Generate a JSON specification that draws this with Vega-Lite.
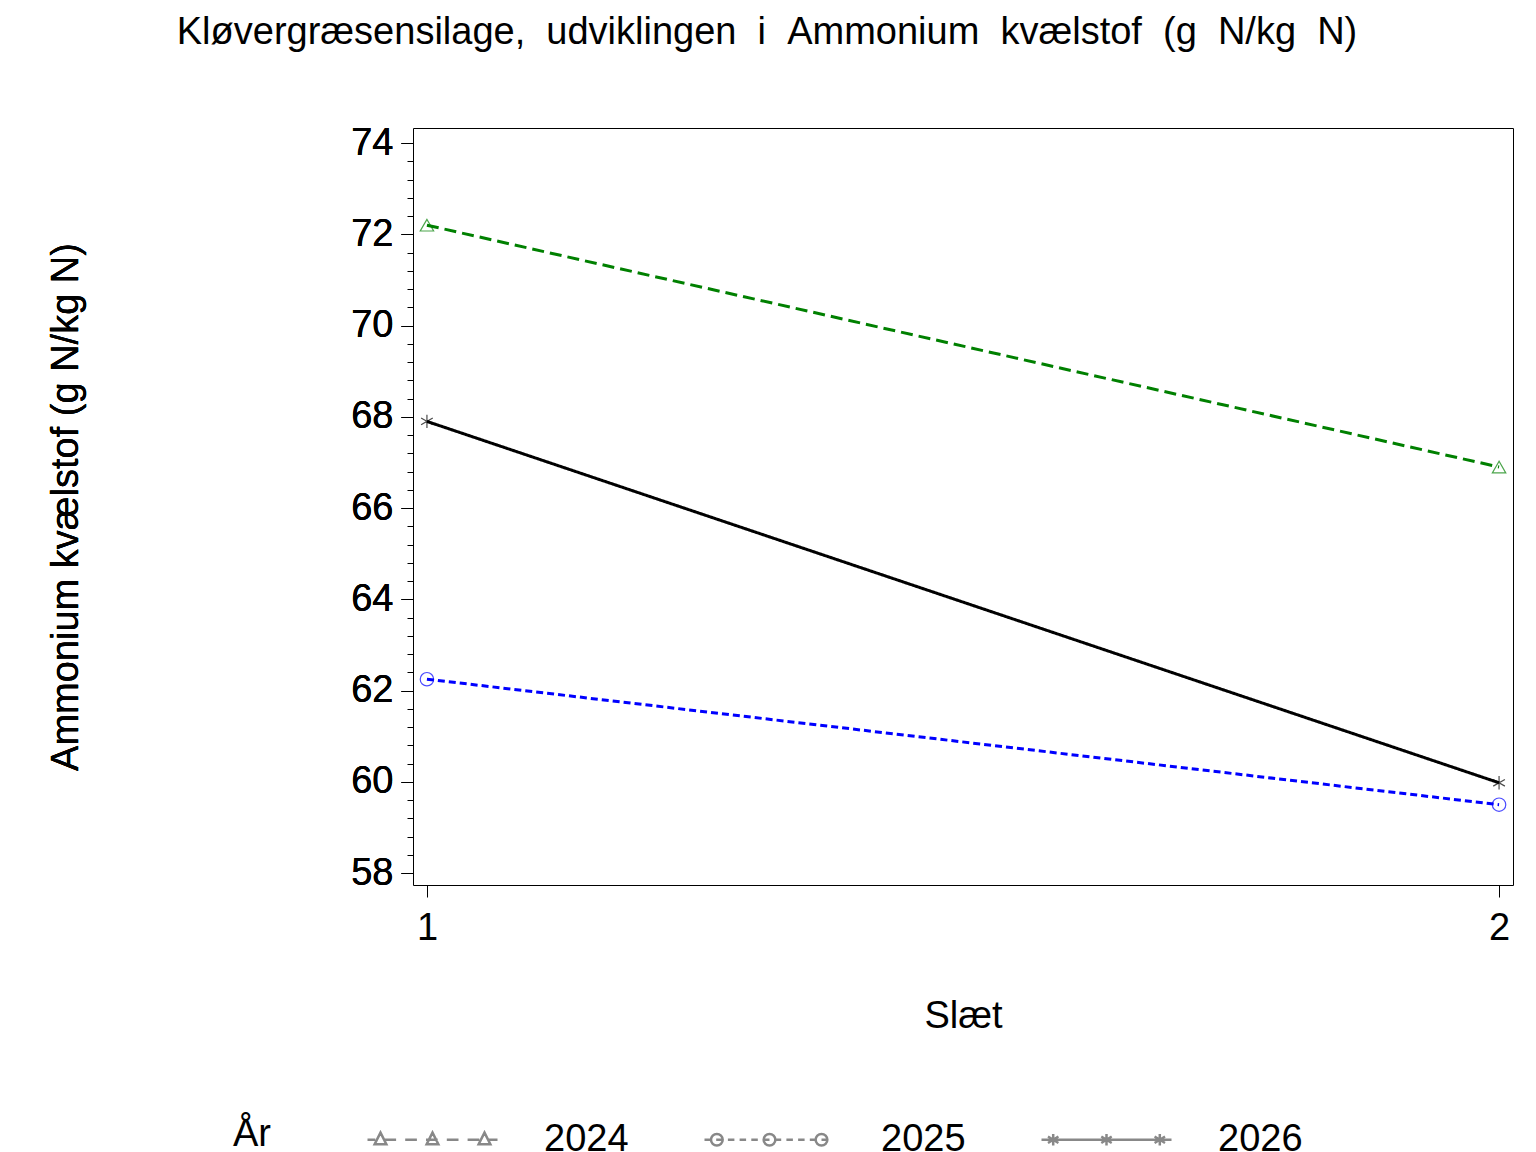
{
  "$schema": "https://vega.github.io/schema/vega-lite/v6.json",
  "autosize": "none",
  "width": 1100,
  "height": 757,
  "padding": {"left": 413, "top": 128, "right": 23, "bottom": 267},
  "background": "white",
  "config": {
    "font": "Liberation Sans",
    "view": {"stroke": "black", "strokeWidth": 1}
  },
  "title": {
    "text": "Kløvergræsensilage,\u00a0\u00a0udviklingen\u00a0\u00a0i\u00a0\u00a0Ammonium\u00a0\u00a0kvælstof\u00a0\u00a0(g\u00a0\u00a0N/kg\u00a0\u00a0N)",
    "fontSize": 38, "fontWeight": "normal", "font": "Liberation Sans",
    "anchor": "middle", "dx": -196, "offset": 72, "color": "black"
  },
  "data": {
    "values": [
      {"slaet": 1, "aar": "2024", "val": 72.2},
      {"slaet": 2, "aar": "2024", "val": 66.9},
      {"slaet": 1, "aar": "2025", "val": 62.25},
      {"slaet": 2, "aar": "2025", "val": 59.5},
      {"slaet": 1, "aar": "2026", "val": 67.9},
      {"slaet": 2, "aar": "2026", "val": 59.98}
    ]
  },
  "encoding": {
    "x": {
      "field": "slaet", "type": "quantitative",
      "scale": {"domain": [0.987, 2.013], "nice": false, "zero": false},
      "axis": {
        "values": [1, 2], "title": "Slæt", "grid": false, "domain": false,
        "tickSize": 12, "tickColor": "black", "labelFontSize": 38, "labelColor": "black",
        "labelPadding": 12, "titleFontSize": 38, "titleFontWeight": "normal",
        "titleColor": "black", "titlePadding": 50, "format": "d"
      }
    },
    "y": {
      "field": "val", "type": "quantitative",
      "scale": {"domain": [57.74, 74.33], "nice": false, "zero": false},
      "axis": {
        "orient": "left",
        "values": [58, 60, 62, 64, 66, 68, 70, 72, 74], "title": "Ammonium kvælstof (g N/kg N)",
        "grid": false, "domain": false, "tickSize": 12, "tickColor": "black",
        "labelFontSize": 38, "labelColor": "black", "labelPadding": 8,
        "titleFontSize": 38, "titleFontWeight": "normal", "titleColor": "black",
        "titlePadding": 265
      }
    }
  },
  "layer": [
    {
      "mark": {"type": "tick", "opacity": 0},
      "encoding": {
        "y": {
          "field": "val", "type": "quantitative",
          "axis": {
            "orient": "left", "title": null, "labels": false, "domain": false, "grid": false,
            "tickSize": 6, "tickColor": "black",
            "values": [58.4, 58.8, 59.2, 59.6, 60.4, 60.8, 61.2, 61.6, 62.4, 62.8, 63.2, 63.6, 64.4, 64.8, 65.2, 65.6, 66.4, 66.8, 67.2, 67.6, 68.4, 68.8, 69.2, 69.6, 70.4, 70.8, 71.2, 71.6, 72.4, 72.8, 73.2, 73.6]
          }
        }
      }
    },
    {
      "mark": {"type": "line", "strokeWidth": 3},
      "encoding": {
        "color": {
          "field": "aar", "type": "nominal",
          "scale": {"domain": ["2024", "2025", "2026"], "range": ["#008000", "#0000ff", "#000000"]},
          "legend": null
        },
        "strokeDash": {
          "field": "aar", "type": "nominal",
          "scale": {"domain": ["2024", "2025", "2026"], "range": [[12, 6], [7, 4], [1, 0]]},
          "legend": null
        }
      }
    },
    {
      "mark": {"type": "point", "filled": false, "size": 180, "strokeWidth": 1.2},
      "encoding": {
        "color": {"field": "aar", "type": "nominal", "legend": null},
        "shape": {
          "field": "aar", "type": "nominal",
          "scale": {"domain": ["2024", "2025", "2026"], "range": ["triangle-up", "circle", "M0,-1L0,1M-0.87,-0.5L0.87,0.5M-0.87,0.5L0.87,-0.5"]},
          "legend": null
        }
      }
    },
    {
      "mark": {"type": "point", "filled": false, "size": 0, "strokeWidth": 0},
      "encoding": {
        "shape": {
          "field": "aar", "type": "nominal",
          "scale": {"domain": ["2024", "2025", "2026"], "range": [
            "M-1,0L-0.88,0M-0.74,0L-0.56,0M-0.42,0L-0.24,0M-0.1,0L0.08,0M0.22,0L0.4,0M0.54,0L0.72,0M0.86,0L1,0M-0.8,-0.11L-0.89,0.07L-0.71,0.07ZM0,-0.11L-0.09,0.07L0.09,0.07ZM0.8,-0.11L0.71,0.07L0.89,0.07Z",
            "M-1,0L-0.9,0M-0.82,0L-0.72,0M-0.64,0L-0.54,0M-0.46,0L-0.36,0M-0.28,0L-0.18,0M-0.1,0L0,0M0.08,0L0.18,0M0.26,0L0.36,0M0.44,0L0.54,0M0.62,0L0.72,0M0.8,0L0.9,0M-0.72,0A0.09,0.09 0 1,0 -0.9,0A0.09,0.09 0 1,0 -0.72,0M0.09,0A0.09,0.09 0 1,0 -0.09,0A0.09,0.09 0 1,0 0.09,0M0.89,0A0.09,0.09 0 1,0 0.71,0A0.09,0.09 0 1,0 0.89,0",
            "M-1,0L1,0M-0.82,-0.09L-0.82,0.09M-0.9,-0.05L-0.74,0.05M-0.9,0.05L-0.74,-0.05M0,-0.09L0,0.09M-0.08,-0.05L0.08,0.05M-0.08,0.05L0.08,-0.05M0.82,-0.09L0.82,0.09M0.74,-0.05L0.9,0.05M0.74,0.05L0.9,-0.05"
          ]},
          "legend": {
            "title": "År", "orient": "none", "legendX": -180, "legendY": 945,
            "direction": "horizontal", "titleOrient": "left", "titleFontSize": 38,
            "titleFontWeight": "normal", "titleColor": "black", "titlePadding": 95,
            "titleBaseline": "top",
            "labelFontSize": 38, "labelColor": "black", "labelOffset": 45,
            "symbolSize": 16900, "symbolStrokeWidth": 2.5, "symbolOpacity": 1,
            "symbolFillColor": "transparent", "columnPadding": 70, "labelLimit": 300
          }
        },
        "stroke": {
          "field": "aar", "type": "nominal",
          "scale": {"domain": ["2024", "2025", "2026"], "range": ["#008000", "#0000ff", "#000000"]}
        }
      }
    }
  ],
  "resolve": {"scale": {"shape": "independent", "y": "shared"}, "axis": {"y": "independent"}}
}
